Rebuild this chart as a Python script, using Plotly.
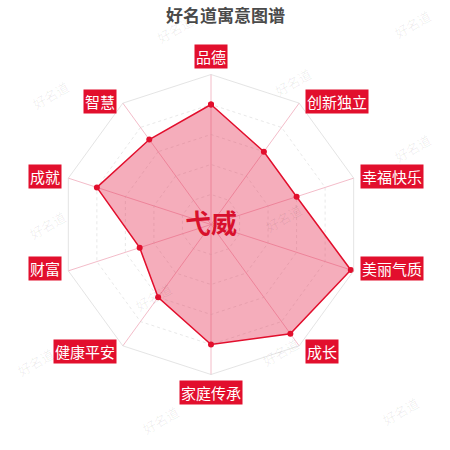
import math
import plotly.graph_objects as go

# 寓意维度（顺时针，从正上方开始）
categories = ["品德", "创新独立", "幸福快乐", "美丽气质", "成长",
              "家庭传承", "健康平安", "财富", "成就", "智慧"]
scores = [80, 60, 60, 98, 90, 80, 60, 50, 80, 70]

title_text = "好名道寓意图谱"
name_text = "弋威"
watermark = "好名道"
watermark_spots = [(175, 30), (412, 24), (50, 95), (293, 83), (412, 148),
                   (47, 225), (283, 218), (153, 297), (35, 362), (160, 420),
                   (280, 352), (400, 411)]

RED = "#e20f2d"
W = H = 450
cx, cy, R = 211, 224.5, 150  # 雷达图中心和半径（像素）


def px(x, y):
    return x / W, 1 - y / H


fig = go.Figure()
fig.add_trace(go.Scatterpolar(
    r=scores + scores[:1],
    theta=categories + categories[:1],
    mode="lines+markers",
    fill="toself",
    fillcolor="rgba(228,40,75,0.38)",
    line=dict(color=RED, width=1.5),
    marker=dict(color=RED, size=6),
    hoverinfo="skip",
))

fig.update_layout(
    width=W, height=H,
    margin=dict(l=0, r=0, t=0, b=0),
    paper_bgcolor="white",
    showlegend=False,
    polar=dict(
        domain=dict(x=[(cx - R) / W, (cx + R) / W],
                    y=[1 - (cy + R) / H, 1 - (cy - R) / H]),
        bgcolor="white",
        gridshape="linear",
        radialaxis=dict(range=[0, 100], tickvals=[20, 40, 60, 80],
                        showticklabels=False, ticks="",
                        showline=False,
                        gridcolor="rgba(210,210,210,0.5)", griddash="dot"),
        angularaxis=dict(rotation=90, direction="clockwise",
                         showticklabels=False, ticks="",
                         gridcolor="rgba(238,160,178,0.7)",
                         showline=True, linecolor="rgba(210,210,210,0.6)"),
    ),
)

# 维度标签（红底白字）
n = len(categories)
for i, c in enumerate(categories):
    a = 2 * math.pi * i / n
    ex = cx + R * math.sin(a)
    ey = cy - R * math.cos(a)
    s, co = math.sin(a), math.cos(a)
    if abs(s) < 1e-6:
        xa, dx = "center", 0
        dy = -18 if co > 0 else 18
    elif s > 0:
        xa, dx = "left", 6
        dy = 6 if co < -0.7 else -2
    else:
        xa, dx = "right", -6
        dy = 6 if co < -0.7 else -2
    x, y = px(ex + dx, ey + dy)
    fig.add_annotation(x=x, y=y, xref="paper", yref="paper", text=c,
                       showarrow=False, xanchor=xa, yanchor="middle",
                       font=dict(family="Noto Sans CJK SC", size=15, color="white"),
                       bgcolor=RED, borderpad=1)

# 中心名字
x, y = px(cx, cy - 3)
fig.add_annotation(x=x, y=y, xref="paper", yref="paper",
                   text="<b>" + name_text + "</b>", showarrow=False,
                   xanchor="center", yanchor="middle",
                   font=dict(family="Noto Sans CJK SC", size=26, color="#d8102c"))

# 标题
fig.add_annotation(x=px(225, 0)[0], y=1, xref="paper", yref="paper",
                   text="<b>" + title_text + "</b>", showarrow=False,
                   xanchor="center", yanchor="top",
                   font=dict(family="Noto Sans CJK SC", size=17, color="#4a4a4a"))

# 水印
for (wx, wy) in watermark_spots:
    x, y = px(wx, wy)
    fig.add_annotation(x=x, y=y, xref="paper", yref="paper",
                       text=watermark, showarrow=False, textangle=-30,
                       xanchor="center", yanchor="middle",
                       font=dict(family="Noto Sans CJK SC", size=13,
                                 color="rgba(0,0,0,0.07)"))

# 去掉页面默认的 8px 外边距，让图表贴齐窗口
fig.write_html("out.html", config={"displayModeBar": False},
               post_script="document.body.style.margin='0';")
